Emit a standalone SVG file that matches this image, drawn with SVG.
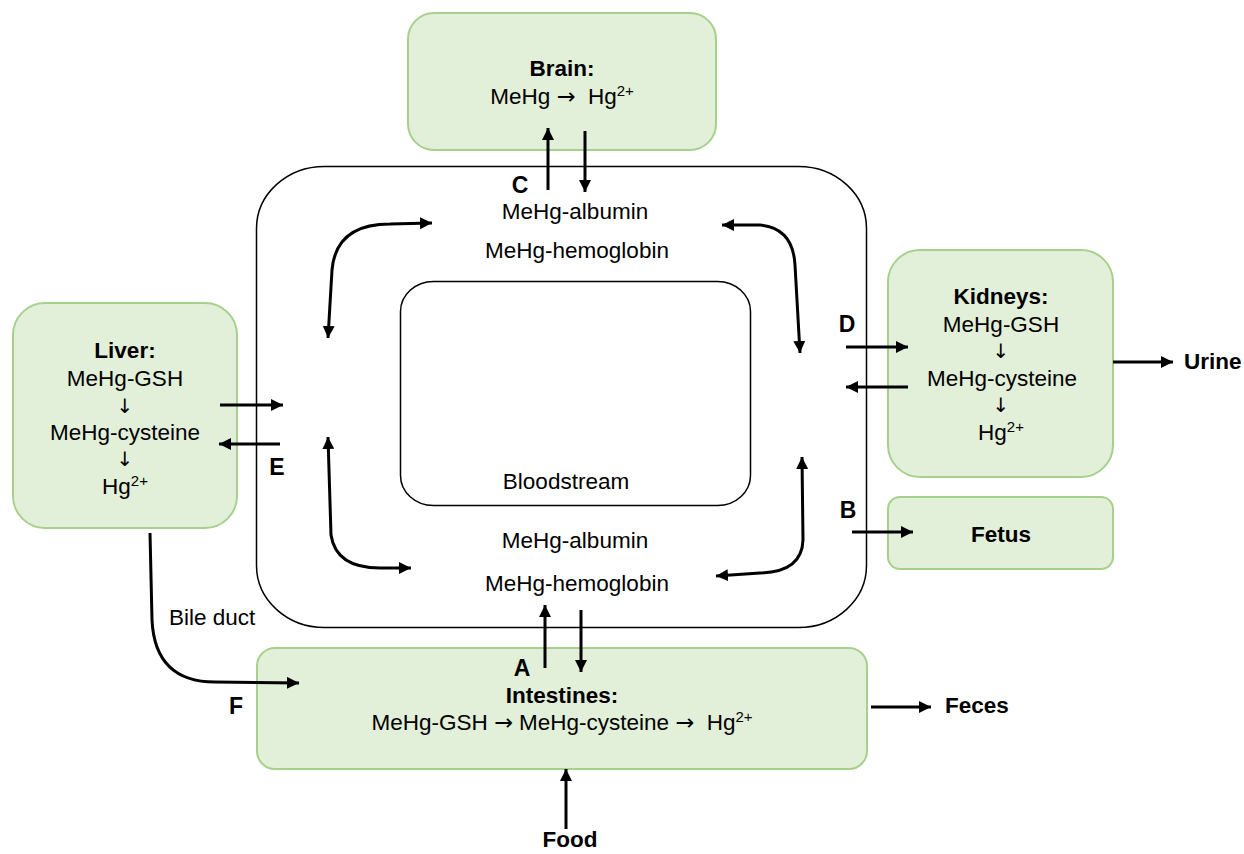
<svg xmlns="http://www.w3.org/2000/svg" width="1244" height="854" viewBox="0 0 1244 854">
<defs>
<marker id="ah" viewBox="0 0 10 10" refX="10" refY="5" markerWidth="12" markerHeight="12" markerUnits="userSpaceOnUse" orient="auto-start-reverse">
<path d="M0,0 L10,5 L0,10 z" fill="#000"/>
</marker>
<style>
.organ{fill:#e2efd9;stroke:#a8d08d;stroke-width:2}
.blood{fill:none;stroke:#000;stroke-width:1.5}
.t{font-family:"Liberation Sans",Arial,Helvetica,sans-serif;font-size:22.5px;fill:#000;text-anchor:middle}
.b{font-weight:bold}
.s{font-size:15px}
.ar{font-family:"DejaVu Sans",sans-serif;fill:#000}
.dn{font-family:"DejaVu Sans",sans-serif;font-size:20px;fill:#000;text-anchor:middle}
.lbl{font-family:"Liberation Sans",Arial,Helvetica,sans-serif;font-size:23px;font-weight:bold;fill:#000;text-anchor:middle}
.c{fill:none;stroke:#000;stroke-width:3}
.a{marker-end:url(#ah)}
.aa{marker-start:url(#ah);marker-end:url(#ah)}
</style>
</defs>
<rect width="1244" height="854" fill="#fff"/>

<g id="bloodstream">
<rect class="blood" x="256.5" y="166.5" width="610" height="461" rx="68" ry="62"/>
<text class="t" x="575" y="219">MeHg-albumin</text>
<text class="t" x="577" y="258">MeHg-hemoglobin</text>
<text class="t" x="575" y="548">MeHg-albumin</text>
<text class="t" x="577" y="591">MeHg-hemoglobin</text>
</g>
<g id="bloodstream-inner">
<rect class="blood" x="400.5" y="281.5" width="350" height="224" rx="33" ry="30"/>
<text class="t" x="566" y="489">Bloodstream</text>
</g>

<g id="brain">
<rect class="organ" x="408" y="13" width="308" height="137" rx="26"/>
<text class="t b" x="562" y="76">Brain:</text>
<text class="t" x="562" y="104" xml:space="preserve">MeHg <tspan class="ar">→</tspan>  Hg<tspan class="s" dy="-8">2+</tspan></text>
</g>

<g id="liver">
<rect class="organ" x="13" y="303" width="224" height="225" rx="32"/>
<text class="t b" x="125" y="358">Liver:</text>
<text class="t" x="125" y="386">MeHg-GSH</text>
<text class="dn" x="125" y="413">↓</text>
<text class="t" x="125" y="440">MeHg-cysteine</text>
<text class="dn" x="125" y="466">↓</text>
<text class="t" x="125" y="494">Hg<tspan class="s" dy="-8">2+</tspan></text>
</g>

<g id="kidneys">
<rect class="organ" x="888" y="250" width="225" height="227" rx="32"/>
<text class="t b" x="1001" y="304">Kidneys:</text>
<text class="t" x="1001" y="332">MeHg-GSH</text>
<text class="dn" x="1001" y="358">↓</text>
<text class="t" x="1002" y="386">MeHg-cysteine</text>
<text class="dn" x="1001" y="412">↓</text>
<text class="t" x="1001" y="440">Hg<tspan class="s" dy="-8">2+</tspan></text>
</g>

<g id="fetus">
<rect class="organ" x="888" y="497" width="225" height="72" rx="12"/>
<text class="t b" x="1001" y="542">Fetus</text>
</g>

<g id="intestines">
<rect class="organ" x="257" y="648" width="610" height="121" rx="18"/>
<text class="t b" x="562" y="703">Intestines:</text>
<text class="t" x="562" y="730" xml:space="preserve">MeHg-GSH <tspan class="ar">→</tspan> MeHg-cysteine <tspan class="ar">→</tspan>  Hg<tspan class="s" dy="-8">2+</tspan></text>
</g>

<g id="outputs">
<text class="t b" x="1184" y="369" style="text-anchor:start">Urine</text>
<text class="t b" x="945" y="713" style="text-anchor:start">Feces</text>
<text class="t b" x="570" y="847">Food</text>
<text class="t" x="169" y="625" style="text-anchor:start">Bile duct</text>
</g>

<g id="letters">
<text class="lbl" x="520" y="193">C</text>
<text class="lbl" x="847" y="332">D</text>
<text class="lbl" x="848" y="518">B</text>
<text class="lbl" x="277" y="475">E</text>
<text class="lbl" x="522" y="676">A</text>
<text class="lbl" x="236" y="714">F</text>
</g>

<g id="connectors">
<line class="c a" x1="548" y1="190" x2="548" y2="128"/>
<line class="c a" x1="585" y1="131" x2="585" y2="192"/>
<line class="c a" x1="545" y1="668" x2="545" y2="605"/>
<line class="c a" x1="581" y1="610" x2="581" y2="672"/>
<line class="c a" x1="220" y1="405" x2="283" y2="405"/>
<line class="c a" x1="280" y1="444" x2="219" y2="444"/>
<line class="c a" x1="846" y1="347" x2="908" y2="347"/>
<line class="c a" x1="908" y1="387" x2="846" y2="387"/>
<line class="c a" x1="852" y1="532" x2="913" y2="532"/>
<line class="c a" x1="1113" y1="362" x2="1173" y2="362"/>
<line class="c a" x1="871" y1="707" x2="931" y2="707"/>
<line class="c a" x1="566" y1="829" x2="566" y2="769"/>
<path class="c a" d="M150,533 L152,620 Q155,682 215,682 L299,683"/>
<path class="c aa" d="M328,338 L332,270 Q336,224 390,224 L432,223"/>
<path class="c aa" d="M722,225 L760,225 Q793,228 795,265 L800,353"/>
<path class="c aa" d="M328,437 L331,535 Q336,568 380,568 L411,568"/>
<path class="c aa" d="M802,457 L803,540 Q802,572 760,573 L716,576"/>
</g>
</svg>
